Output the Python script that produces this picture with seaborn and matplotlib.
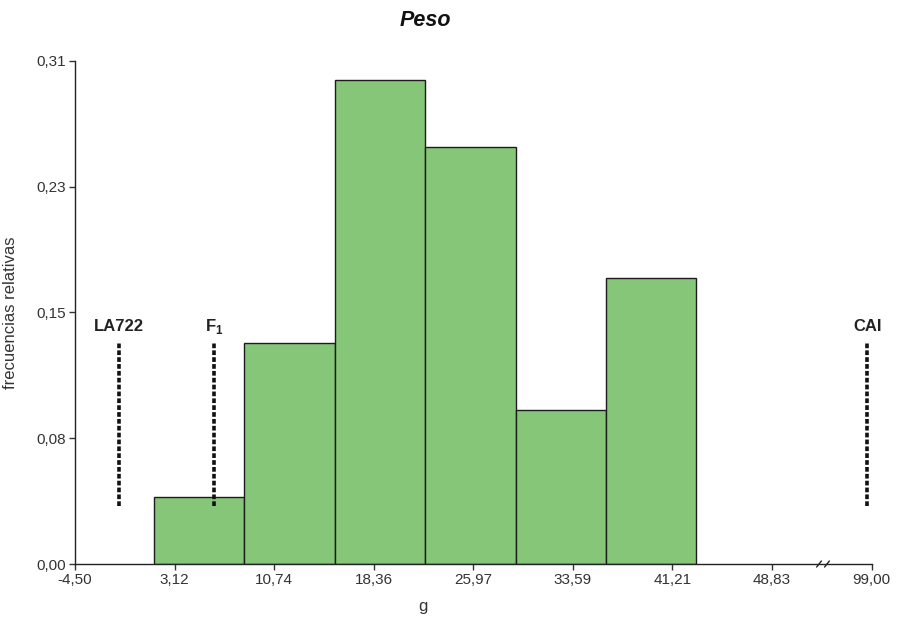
import numpy as np
import matplotlib
matplotlib.use("Agg")
import matplotlib.pyplot as plt
import seaborn as sns

# Histogram of weight (g): bin edges and relative frequency per bin
bin_edges = [1.54, 8.46, 15.37, 22.29, 29.20, 36.12, 43.03]
rel_freq = [0.041, 0.136, 0.298, 0.257, 0.095, 0.176]

# Reference genotypes shown as dashed markers
ref_names = ["LA722", r"$\mathbf{F}_{\mathregular{1}}$", "CAI"]
ref_values = [-1.11, 6.15, 96.7]
ref_low, ref_high = 0.036, 0.136

# Axis ticks and labels
x_ticks = [-4.50, 3.12, 10.74, 18.36, 25.97, 33.59, 41.21, 48.83, 99.00]
x_tick_labels = ["-4,50", "3,12", "10,74", "18,36", "25,97", "33,59",
                 "41,21", "48,83", "99,00"]
y_ticks = [0.0, 0.0775, 0.155, 0.2325, 0.31]
y_tick_labels = ["0,00", "0,08", "0,15", "0,23", "0,31"]

sns.set_style("ticks")
plt.rcParams["font.family"] = ["Liberation Sans", "DejaVu Sans"]
plt.rcParams["mathtext.fontset"] = "custom"
plt.rcParams["mathtext.rm"] = "Liberation Sans"
plt.rcParams["mathtext.bf"] = "Liberation Sans:bold"

W, H = 897, 622
fig = plt.figure(figsize=(W / 100, H / 100), dpi=100)
left_px, right_px, top_px, bottom_px = 75, 871.7, 60.7, 564
ax = fig.add_axes([left_px / W, 1 - bottom_px / H,
                   (right_px - left_px) / W, (bottom_px - top_px) / H])

# Bars: each bin weighted by its relative frequency
centers = [(a + b) / 2 for a, b in zip(bin_edges[:-1], bin_edges[1:])]
sns.histplot(x=centers, weights=rel_freq, bins=bin_edges, stat="count",
             color="#86C678", alpha=1.0, edgecolor="#1c1c1c", linewidth=1.0,
             ax=ax)

# Broken x axis: compress everything beyond the last regular tick
brk = 48.83
k = 7.62 / (99.00 - brk)


def fwd(x):
    x = np.asarray(x, dtype=float)
    return np.where(x <= brk, x, brk + (x - brk) * k)


def inv(x):
    x = np.asarray(x, dtype=float)
    return np.where(x <= brk, x, brk + (x - brk) / k)


ax.set_xscale("function", functions=(fwd, inv))
ax.set_xlim(-4.50, 99.00)
ax.set_ylim(0, 0.31)

# Dashed reference markers with their labels
for name, xv in zip(ref_names, ref_values):
    ax.plot([xv, xv], [ref_low, ref_high], color="#111111", lw=2.6,
            dashes=(1.3, 0.6), solid_capstyle="butt", clip_on=False)
    ax.text(xv, 0.146, name, ha="center", va="center", fontsize=12,
            fontweight="bold", color="#222222")

ax.set_xticks(x_ticks)
ax.set_xticklabels(x_tick_labels)
ax.set_yticks(y_ticks)
ax.set_yticklabels(y_tick_labels)
ax.minorticks_off()
ax.tick_params(axis="both", direction="out", length=4.5, width=1.0,
               color="#333333", labelsize=11, labelcolor="#333333", pad=2)

sns.despine(ax=ax)
for s in ("left", "bottom"):
    ax.spines[s].set_linewidth(1.0)
    ax.spines[s].set_color("#222222")

ax.set_xlabel("")
ax.set_ylabel("frecuencias relativas", fontsize=12, color="#333333")
ax.yaxis.set_label_coords((18 - left_px) / (right_px - left_px), 0.5)

# Axis break symbol
bx = (823 - left_px) / (right_px - left_px)
for dx in (-0.005, 0.005):
    ax.plot([bx + dx - 0.003, bx + dx + 0.003], [-0.006, 0.006],
            transform=ax.transAxes, color="#222222", lw=1.0, clip_on=False)

fig.text(425 / W, 1 - 20 / H, "Peso", ha="center", va="center",
         fontsize=15.5, fontweight="bold", fontstyle="italic", color="#111111")
fig.text(423 / W, 1 - 606 / H, "g", ha="center", va="center",
         fontsize=12, color="#333333")

fig.savefig("out.png", dpi=100, facecolor="white")
